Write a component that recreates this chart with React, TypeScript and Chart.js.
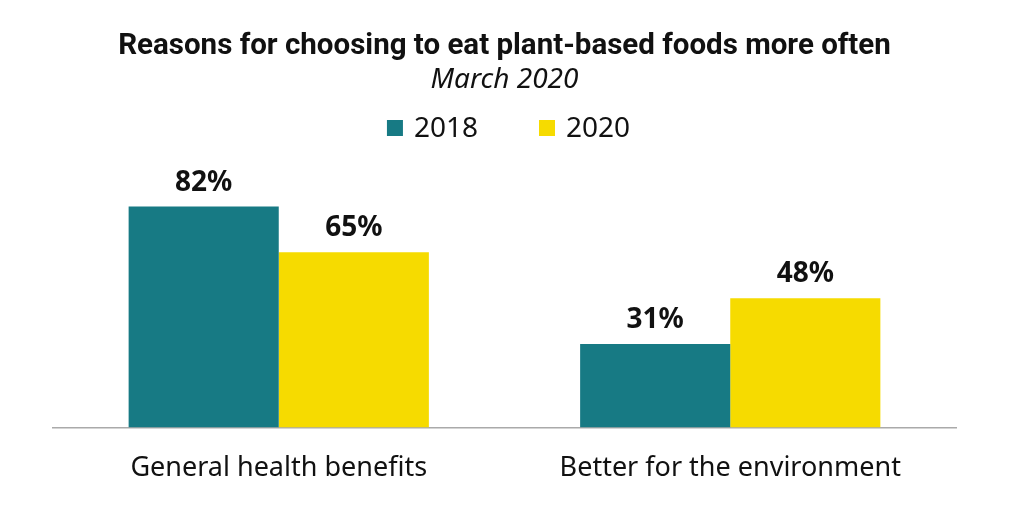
import React, { useEffect, useRef } from "react";
import { Chart, registerables } from "chart.js";

Chart.register(...registerables);

const categories = ["General health benefits", "Better for the environment"];
const seriesLabels = ["2018", "2020"];
const values2018 = [82, 31];
const values2020 = [65, 48];
const colors = ["#177A84", "#F6DB00"];

const TEXT_FONT = "'Noto Sans', 'DejaVu Sans', sans-serif";

const valueLabelPlugin = {
  id: "valueLabels",
  afterDatasetsDraw(chart: any) {
    const ctx = chart.ctx;
    ctx.save();
    ctx.font = `bold 28px ${TEXT_FONT}`;
    ctx.fillStyle = "#111111";
    ctx.textAlign = "center";
    ctx.textBaseline = "alphabetic";
    chart.data.datasets.forEach((ds: any, di: number) => {
      const meta = chart.getDatasetMeta(di);
      meta.data.forEach((bar: any, i: number) => {
        ctx.fillText(`${ds.data[i]}%`, bar.x, bar.y - 16);
      });
    });
    ctx.restore();
  },
};

const customLegendPlugin = {
  id: "customLegend",
  afterDraw(chart: any) {
    const ctx = chart.ctx;
    const box = 16;
    const gap = 11;
    const spacing = 61;
    const y = 128;
    ctx.save();
    ctx.font = `28px ${TEXT_FONT}`;
    const items = chart.data.datasets.map((ds: any) => ({
      text: ds.label,
      color: ds.backgroundColor,
      w: box + gap + ctx.measureText(ds.label).width,
    }));
    const total = items.reduce((s: number, it: any) => s + it.w, 0) + spacing * (items.length - 1);
    const ca = chart.chartArea;
    let x = (ca.left + ca.right) / 2 + 4 - total / 2;
    ctx.textBaseline = "middle";
    ctx.textAlign = "left";
    items.forEach((it: any) => {
      ctx.fillStyle = it.color;
      ctx.fillRect(x, y - box / 2, box, box);
      ctx.fillStyle = "#111111";
      ctx.fillText(it.text, x + box + gap, y + 1);
      x += it.w + spacing;
    });
    ctx.restore();
  },
};

export default function App() {
  const canvasRef = useRef<HTMLCanvasElement | null>(null);

  useEffect(() => {
    document.body.style.margin = "0";
    const canvas = canvasRef.current;
    if (!canvas) return;
    const chart = new Chart(canvas, {
      type: "bar",
      data: {
        labels: categories,
        datasets: [
          { label: seriesLabels[0], data: values2018, backgroundColor: colors[0] },
          { label: seriesLabels[1], data: values2020, backgroundColor: colors[1] },
        ],
      },
      options: {
        responsive: false,
        animation: false,
        devicePixelRatio: 1,
        layout: { padding: { top: 0, left: 53, right: 68, bottom: 16 } },
        datasets: {
          bar: { categoryPercentage: 0.665, barPercentage: 1.0 },
        },
        plugins: {
          legend: { display: false },
          tooltip: { enabled: false },
          title: {
            display: true,
            text: "Reasons for choosing to eat plant-based foods more often",
            color: "#111111",
            font: { family: "Roboto, sans-serif", size: 29.5, weight: "bold", lineHeight: 1.2 },
            padding: { top: 29.3, bottom: 0 },
          },
          subtitle: {
            display: true,
            text: "March 2020",
            color: "#111111",
            font: { family: TEXT_FONT, size: 28, style: "italic", weight: "normal", lineHeight: 1.1 },
            padding: { top: 0, bottom: 62.5 },
          },
        },
        scales: {
          x: {
            grid: { display: false, drawTicks: false },
            border: { display: true, color: "#AAAAAA", width: 1.5 },
            ticks: {
              color: "#111111",
              padding: 25,
              font: { family: TEXT_FONT, size: 27, lineHeight: 1.2 },
            },
          },
          y: {
            display: false,
            min: 0,
            max: 100,
          },
        },
      },
      plugins: [valueLabelPlugin, customLegendPlugin],
    });
    return () => chart.destroy();
  }, []);

  return (
    <div style={{ width: 1024, height: 526, background: "#ffffff" }}>
      <canvas ref={canvasRef} width={1024} height={526} style={{ display: "block" }} />
    </div>
  );
}
